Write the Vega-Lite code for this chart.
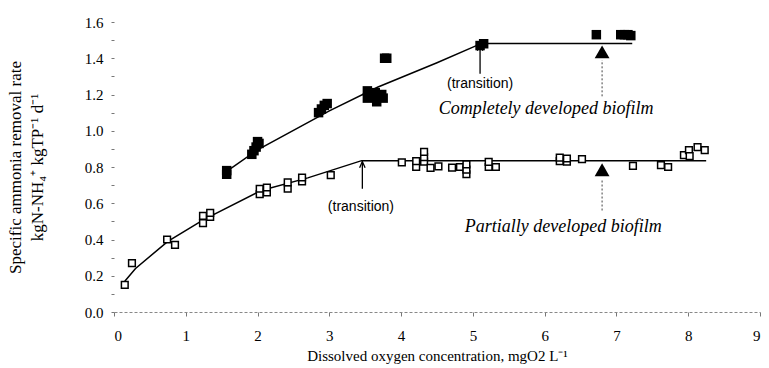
{
  "$schema": "https://vega.github.io/schema/vega-lite/v6.json",
  "width": 646,
  "height": 290,
  "autosize": {"type": "none"},
  "padding": {"left": 114, "top": 22, "right": 9, "bottom": 56},
  "background": "white",
  "config": {"view": {"stroke": null}, "font": "Liberation Serif"},
  "datasets": {
    "lines": [
      {"series": "complete", "x": 1.55, "y": 0.77},
      {"series": "complete", "x": 2.0, "y": 0.895},
      {"series": "complete", "x": 3.0, "y": 1.11},
      {"series": "complete", "x": 3.67, "y": 1.24},
      {"series": "complete", "x": 4.5, "y": 1.375},
      {"series": "complete", "x": 5.12, "y": 1.482},
      {"series": "complete", "x": 7.22, "y": 1.482},
      {"series": "partial", "x": 0.15, "y": 0.17},
      {"series": "partial", "x": 0.3, "y": 0.24},
      {"series": "partial", "x": 0.75, "y": 0.39},
      {"series": "partial", "x": 1.25, "y": 0.51},
      {"series": "partial", "x": 2.05, "y": 0.67},
      {"series": "partial", "x": 2.7, "y": 0.74},
      {"series": "partial", "x": 3.45, "y": 0.835},
      {"series": "partial", "x": 8.25, "y": 0.835}
    ],
    "complete": [
      {"x": 1.57, "y": 0.76}, {"x": 1.57, "y": 0.78},
      {"x": 1.92, "y": 0.87}, {"x": 1.95, "y": 0.89}, {"x": 1.98, "y": 0.91}, {"x": 2.0, "y": 0.94}, {"x": 2.02, "y": 0.93},
      {"x": 2.85, "y": 1.1}, {"x": 2.89, "y": 1.12}, {"x": 2.93, "y": 1.14}, {"x": 2.97, "y": 1.15},
      {"x": 3.53, "y": 1.22}, {"x": 3.53, "y": 1.18}, {"x": 3.64, "y": 1.21}, {"x": 3.66, "y": 1.16}, {"x": 3.73, "y": 1.2}, {"x": 3.75, "y": 1.18},
      {"x": 3.77, "y": 1.4}, {"x": 3.8, "y": 1.4},
      {"x": 5.1, "y": 1.47}, {"x": 5.15, "y": 1.48},
      {"x": 6.72, "y": 1.53}, {"x": 7.06, "y": 1.53}, {"x": 7.11, "y": 1.53}, {"x": 7.16, "y": 1.53}, {"x": 7.2, "y": 1.525}
    ],
    "partial": [
      {"x": 0.15, "y": 0.15}, {"x": 0.25, "y": 0.27}, {"x": 0.74, "y": 0.4}, {"x": 0.85, "y": 0.37},
      {"x": 1.24, "y": 0.49}, {"x": 1.24, "y": 0.53}, {"x": 1.34, "y": 0.525}, {"x": 1.34, "y": 0.547},
      {"x": 2.03, "y": 0.65}, {"x": 2.03, "y": 0.68}, {"x": 2.13, "y": 0.66}, {"x": 2.13, "y": 0.687},
      {"x": 2.42, "y": 0.68}, {"x": 2.42, "y": 0.715}, {"x": 2.62, "y": 0.72}, {"x": 2.62, "y": 0.742}, {"x": 3.02, "y": 0.755},
      {"x": 4.01, "y": 0.825}, {"x": 4.21, "y": 0.8}, {"x": 4.21, "y": 0.832}, {"x": 4.32, "y": 0.83}, {"x": 4.32, "y": 0.855}, {"x": 4.32, "y": 0.883},
      {"x": 4.41, "y": 0.795}, {"x": 4.52, "y": 0.804}, {"x": 4.71, "y": 0.797}, {"x": 4.82, "y": 0.8},
      {"x": 4.91, "y": 0.76}, {"x": 4.91, "y": 0.786}, {"x": 4.91, "y": 0.814},
      {"x": 5.22, "y": 0.8}, {"x": 5.22, "y": 0.828}, {"x": 5.32, "y": 0.8},
      {"x": 6.21, "y": 0.832}, {"x": 6.21, "y": 0.852}, {"x": 6.31, "y": 0.83}, {"x": 6.31, "y": 0.847}, {"x": 6.52, "y": 0.843},
      {"x": 7.23, "y": 0.806}, {"x": 7.62, "y": 0.81}, {"x": 7.72, "y": 0.8},
      {"x": 7.94, "y": 0.865}, {"x": 8.01, "y": 0.893}, {"x": 8.02, "y": 0.86}, {"x": 8.13, "y": 0.91}, {"x": 8.23, "y": 0.893}
    ],
    "markers": [
      {"x": 6.8, "y": 1.435}, {"x": 6.8, "y": 0.785}
    ],
    "dashes": [
      {"x": 6.8, "y": 1.19, "y2": 1.39}, {"x": 6.8, "y": 0.56, "y2": 0.735}
    ],
    "arrows": [
      {"x": 5.1, "y": 1.315, "y2": 1.475}, {"x": 3.46, "y": 0.68, "y2": 0.83}
    ],
    "transitions": [
      {"text": "(transition)", "x": 5.1, "y": 1.26}, {"text": "(transition)", "x": 3.44, "y": 0.577}
    ],
    "names": [
      {"text": "Completely developed biofilm", "x": 6.02, "y": 1.118},
      {"text": "Partially developed biofilm", "x": 6.26, "y": 0.47}
    ]
  },
  "encoding": {
    "x": {
      "field": "x", "type": "quantitative",
      "scale": {"domain": [0, 9], "nice": false, "zero": false},
      "axis": {
        "values": [0, 1, 2, 3, 4, 5, 6, 7, 8, 9],
        "title": "Dissolved oxygen concentration, mgO2 L\u207b\u00b9",
        "titleFont": "Liberation Serif", "titleFontSize": 15, "titleFontWeight": "normal", "titleColor": "black", "titlePadding": 5,
        "labelFont": "Liberation Serif", "labelFontSize": 15, "labelColor": "black", "labelPadding": 12,
        "domainColor": "#888", "domainDash": [3, 2], "domainWidth": 1,
        "tickColor": "#777", "tickSize": 4, "tickWidth": 1, "grid": false
      }
    },
    "y": {
      "field": "y", "type": "quantitative",
      "scale": {"domain": [0, 1.6], "nice": false},
      "axis": {
        "values": [0, 0.1, 0.2, 0.3, 0.4, 0.5, 0.6, 0.7, 0.8, 0.9, 1.0, 1.1, 1.2, 1.3, 1.4, 1.5, 1.6],
        "labelExpr": "round(datum.value*10) % 2 == 0 ? format(datum.value, '.1f') : ''",
        "title": ["Specific ammonia removal rate", "kgN-NH\u2084\u207a kgTP\u207b\u00b9 d\u207b\u00b9"],
        "titleFont": "Liberation Serif", "titleFontSize": 17, "titleFontWeight": "normal", "titleColor": "black", "titlePadding": 38, "titleLineHeight": 22,
        "labelFont": "Liberation Serif", "labelFontSize": 15, "labelColor": "black", "labelPadding": 8,
        "domain": false, "tickColor": "#777", "tickSize": 3, "tickWidth": 1, "grid": false
      }
    }
  },
  "layer": [
    {
      "data": {"name": "lines"},
      "mark": {"type": "line", "color": "black", "strokeWidth": 1.5},
      "encoding": {"detail": {"field": "series"}, "order": {"field": "x", "type": "quantitative"}}
    },
    {
      "data": {"name": "dashes"},
      "mark": {"type": "rule", "color": "#444", "strokeWidth": 1, "strokeDash": [2, 2]},
      "encoding": {"y2": {"field": "y2"}}
    },
    {
      "data": {"name": "arrows"},
      "mark": {"type": "rule", "color": "black", "strokeWidth": 1.3},
      "encoding": {"y2": {"field": "y2"}}
    },
    {
      "data": {"name": "arrows"},
      "mark": {"type": "point", "shape": "M-0.45,1L0,0L0.45,1", "filled": false, "stroke": "black", "strokeWidth": 1.3, "size": 150, "opacity": 1},
      "encoding": {"y": {"field": "y2", "type": "quantitative"}}
    },
    {
      "data": {"name": "complete"},
      "mark": {"type": "point", "shape": "square", "filled": true, "color": "black", "size": 90, "opacity": 1}
    },
    {
      "data": {"name": "partial"},
      "mark": {"type": "point", "shape": "square", "filled": true, "fill": "white", "stroke": "black", "strokeWidth": 1.5, "size": 45, "opacity": 1}
    },
    {
      "data": {"name": "markers"},
      "mark": {"type": "point", "shape": "triangle-up", "filled": true, "color": "black", "size": 220, "opacity": 1}
    },
    {
      "data": {"name": "transitions"},
      "mark": {"type": "text", "font": "Liberation Sans", "fontSize": 14, "letterSpacing": 0.6, "color": "black", "align": "center", "baseline": "middle"},
      "encoding": {"text": {"field": "text"}}
    },
    {
      "data": {"name": "names"},
      "mark": {"type": "text", "font": "Liberation Serif", "fontStyle": "italic", "fontSize": 18, "color": "black", "align": "center", "baseline": "middle"},
      "encoding": {"text": {"field": "text"}}
    }
  ]
}
